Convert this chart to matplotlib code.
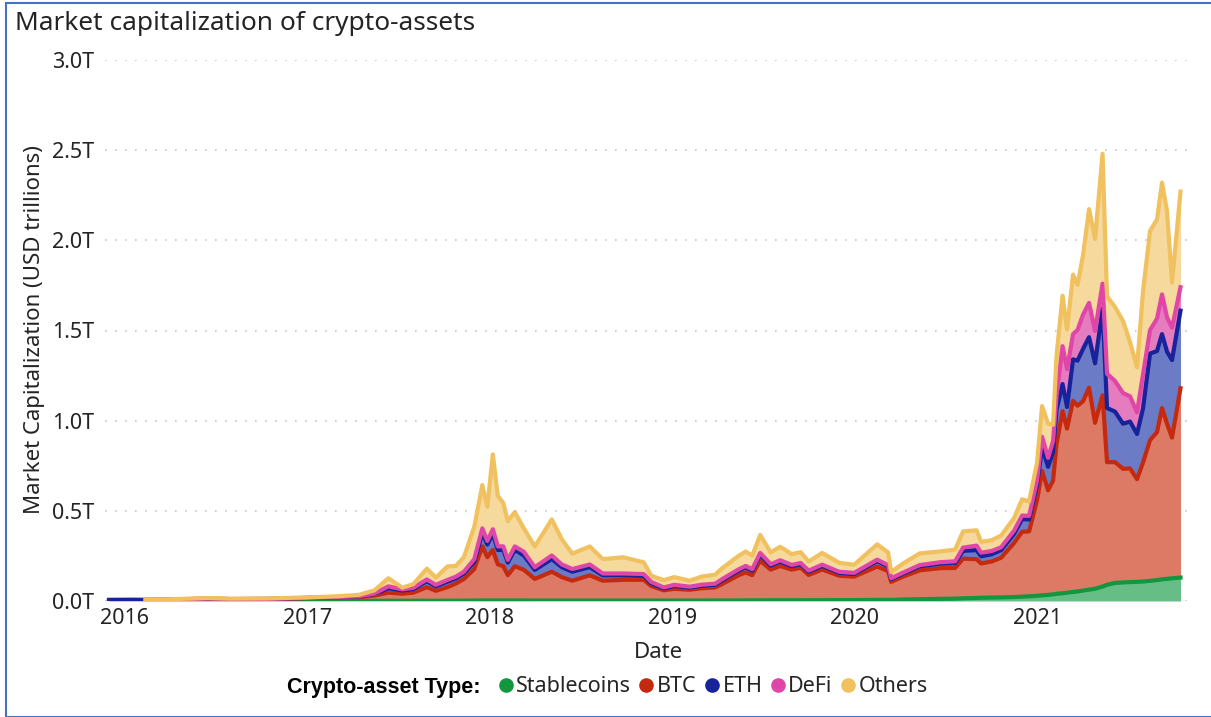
import numpy as np
import pandas as pd
import matplotlib
matplotlib.use("Agg")
import matplotlib.pyplot as plt
import matplotlib.dates as mdates
from matplotlib.lines import Line2D
from matplotlib.patches import Rectangle

plt.rcParams['font.family'] = ['Noto Sans', 'DejaVu Sans']

nan = np.nan

# values in USD trillions
dates = [
    '2015-12-01', '2016-01-15', '2016-02-12', '2016-04-01', '2016-06-15', '2016-08-01',
    '2016-10-15', '2017-01-01', '2017-03-01', '2017-04-15', '2017-05-15', '2017-06-12',
    '2017-07-10', '2017-08-01', '2017-08-28', '2017-09-15', '2017-10-08', '2017-10-25',
    '2017-11-10', '2017-12-01', '2017-12-17', '2017-12-27', '2018-01-07', '2018-01-17',
    '2018-01-28', '2018-02-06', '2018-02-20', '2018-03-10', '2018-04-01', '2018-05-05',
    '2018-05-25', '2018-06-15', '2018-07-20', '2018-08-15', '2018-09-25', '2018-11-05',
    '2018-11-20', '2018-12-15', '2019-01-05', '2019-02-05', '2019-03-01', '2019-03-28',
    '2019-04-10', '2019-05-14', '2019-05-28', '2019-06-10', '2019-06-26', '2019-07-17',
    '2019-08-05', '2019-08-28', '2019-09-15', '2019-10-01', '2019-10-28', '2019-12-01',
    '2019-12-31', '2020-02-15', '2020-03-08', '2020-03-14', '2020-04-05', '2020-05-10',
    '2020-06-20', '2020-07-20', '2020-08-05', '2020-09-01', '2020-09-10', '2020-10-01',
    '2020-10-20', '2020-11-15', '2020-12-01', '2020-12-15', '2020-12-31', '2021-01-10',
    '2021-01-22', '2021-02-01', '2021-02-08', '2021-02-20', '2021-03-01', '2021-03-13',
    '2021-03-22', '2021-04-02', '2021-04-14', '2021-04-26', '2021-05-11', '2021-05-20',
    '2021-06-05', '2021-06-21', '2021-07-05', '2021-07-19', '2021-07-31', '2021-08-14',
    '2021-08-28', '2021-09-07', '2021-09-17', '2021-09-27', '2021-10-14',
]

stablecoins = [
    nan, nan, nan, nan, nan, nan,
    0.0005, 0.0008, 0.0009, 0.0010, 0.0010, 0.0012,
    0.0013, 0.0013, 0.0015, 0.0015, 0.0016, 0.0018,
    0.0020, 0.0025, 0.0030, 0.0030, 0.0030, 0.0030,
    0.0030, 0.0030, 0.0030, 0.0030, 0.0025, 0.0025,
    0.0025, 0.0025, 0.0025, 0.0025, 0.0025, 0.0025,
    0.0025, 0.0025, 0.0025, 0.0025, 0.0025, 0.0030,
    0.0030, 0.0030, 0.0035, 0.0035, 0.0035, 0.0040,
    0.0040, 0.0040, 0.0040, 0.0045, 0.0045, 0.0050,
    0.0050, 0.0060, 0.0060, 0.0060, 0.0080, 0.0100,
    0.0120, 0.0130, 0.0150, 0.0170, 0.0180, 0.0190,
    0.0200, 0.0220, 0.0240, 0.0260, 0.0290, 0.0310,
    0.0340, 0.0370, 0.0400, 0.0430, 0.0460, 0.0500,
    0.0530, 0.0580, 0.0630, 0.0680, 0.0800, 0.0900,
    0.1000, 0.1030, 0.1050, 0.1060, 0.1080, 0.1120,
    0.1160, 0.1200, 0.1230, 0.1260, 0.1300,
]

btc = [
    0.0055, 0.0060, 0.0058, 0.0065, 0.0115, 0.0095,
    0.0100, 0.0155, 0.0190, 0.0200, 0.0290, 0.0450,
    0.0390, 0.0450, 0.0750, 0.0550, 0.0750, 0.0950,
    0.1200, 0.1750, 0.3000, 0.2400, 0.2800, 0.2000,
    0.1900, 0.1400, 0.1900, 0.1700, 0.1200, 0.1600,
    0.1300, 0.1100, 0.1400, 0.1100, 0.1150, 0.1150,
    0.0800, 0.0570, 0.0650, 0.0600, 0.0680, 0.0720,
    0.0900, 0.1400, 0.1550, 0.1400, 0.2200, 0.1700,
    0.1900, 0.1700, 0.1800, 0.1400, 0.1700, 0.1350,
    0.1300, 0.1850, 0.1600, 0.1000, 0.1250, 0.1600,
    0.1700, 0.1700, 0.2200, 0.2150, 0.1900, 0.2000,
    0.2200, 0.3000, 0.3600, 0.3600, 0.5300, 0.6900,
    0.5800, 0.6300, 0.8300, 1.0100, 0.9100, 1.0600,
    1.0300, 1.0500, 1.1200, 0.9200, 1.0600, 0.6800,
    0.6700, 0.6300, 0.6300, 0.5700, 0.6600, 0.7800,
    0.8200, 0.9500, 0.8600, 0.7800, 1.0500,
]

eth = [
    0.0007, 0.0008, 0.0004, 0.0009, 0.0016, 0.0009,
    0.0010, 0.0008, 0.0015, 0.0045, 0.0085, 0.0250,
    0.0180, 0.0200, 0.0330, 0.0250, 0.0300, 0.0280,
    0.0300, 0.0400, 0.0750, 0.0700, 0.0900, 0.0800,
    0.0900, 0.0700, 0.0900, 0.0800, 0.0500, 0.0700,
    0.0550, 0.0500, 0.0450, 0.0300, 0.0250, 0.0220,
    0.0150, 0.0100, 0.0160, 0.0120, 0.0140, 0.0150,
    0.0200, 0.0250, 0.0280, 0.0250, 0.0330, 0.0220,
    0.0240, 0.0190, 0.0200, 0.0180, 0.0200, 0.0160,
    0.0150, 0.0300, 0.0250, 0.0150, 0.0160, 0.0220,
    0.0250, 0.0270, 0.0430, 0.0500, 0.0400, 0.0400,
    0.0420, 0.0500, 0.0700, 0.0660, 0.0850, 0.1300,
    0.1300, 0.1600, 0.1900, 0.1500, 0.1200, 0.2300,
    0.2500, 0.2900, 0.2800, 0.3300, 0.4800, 0.3000,
    0.2800, 0.2500, 0.2600, 0.2500, 0.3000, 0.4800,
    0.4500, 0.4100, 0.4000, 0.4300, 0.4300,
]

defi = [
    nan, nan, 0.0002, 0.0003, 0.0004, 0.0003,
    0.0003, 0.0004, 0.0006, 0.0012, 0.0025, 0.0100,
    0.0060, 0.0070, 0.0100, 0.0080, 0.0100, 0.0100,
    0.0100, 0.0150, 0.0250, 0.0200, 0.0250, 0.0200,
    0.0200, 0.0150, 0.0200, 0.0200, 0.0150, 0.0200,
    0.0150, 0.0150, 0.0150, 0.0100, 0.0100, 0.0100,
    0.0080, 0.0060, 0.0060, 0.0050, 0.0060, 0.0060,
    0.0070, 0.0080, 0.0080, 0.0080, 0.0100, 0.0080,
    0.0080, 0.0070, 0.0070, 0.0060, 0.0070, 0.0060,
    0.0060, 0.0080, 0.0080, 0.0050, 0.0060, 0.0070,
    0.0080, 0.0100, 0.0180, 0.0250, 0.0200, 0.0180,
    0.0160, 0.0180, 0.0200, 0.0200, 0.0250, 0.0600,
    0.0500, 0.0600, 0.0800, 0.2100, 0.2100, 0.1400,
    0.1700, 0.1900, 0.1900, 0.1800, 0.1400, 0.1900,
    0.1700, 0.1700, 0.1400, 0.1200, 0.1900, 0.1300,
    0.1800, 0.2200, 0.1900, 0.1800, 0.1300,
]

others = [
    nan, nan, 0.0015, 0.0020, 0.0030, 0.0025,
    0.0025, 0.0025, 0.0040, 0.0080, 0.0180, 0.0450,
    0.0100, 0.0200, 0.0600, 0.0400, 0.0750, 0.0600,
    0.0800, 0.1800, 0.2400, 0.1900, 0.4150, 0.2800,
    0.2400, 0.2150, 0.1900, 0.1300, 0.1150, 0.2000,
    0.1400, 0.0850, 0.1000, 0.0800, 0.0900, 0.0650,
    0.0350, 0.0400, 0.0430, 0.0330, 0.0450, 0.0500,
    0.0600, 0.0750, 0.0800, 0.0750, 0.1000, 0.0650,
    0.0750, 0.0600, 0.0600, 0.0500, 0.0650, 0.0500,
    0.0450, 0.0850, 0.0700, 0.0350, 0.0500, 0.0650,
    0.0600, 0.0650, 0.0900, 0.0850, 0.0600, 0.0600,
    0.0650, 0.0700, 0.0900, 0.0800, 0.1000, 0.1700,
    0.1900, 0.0900, 0.2200, 0.2800, 0.2200, 0.3300,
    0.2500, 0.3300, 0.5200, 0.5100, 0.7200, 0.4300,
    0.4100, 0.4000, 0.3000, 0.2500, 0.4600, 0.5500,
    0.5500, 0.6200, 0.5900, 0.2500, 0.5300,
]

names = ['Stablecoins', 'BTC', 'ETH', 'DeFi', 'Others']
line_colors = ['#12973F', '#C62A0E', '#17239B', '#E045A8', '#F0C15E']
fill_colors = ['#66BD86', '#DC7A66', '#6C7BC6', '#E57CC0', '#F6D99D']

x = pd.to_datetime(dates)
series = [np.array(s, dtype=float) for s in (stablecoins, btc, eth, defi, others)]

fig = plt.figure(figsize=(12.11, 7.17), dpi=100)
ax = fig.add_axes([105 / 1211, 1 - 601 / 717, 1090 / 1211, 541 / 717])

base = np.zeros(len(x))
tops = []
for s, fc in zip(series, fill_colors):
    top = base + np.nan_to_num(s)
    ax.fill_between(x, base, top, color=fc, linewidth=0, zorder=2)
    tops.append(np.where(np.isnan(s), np.nan, top))
    base = top
for top, lc in zip(tops, line_colors):
    ax.plot(x, top, color=lc, linewidth=3.0, solid_joinstyle='round', zorder=3)

ax.set_ylim(0, 3.0)
ax.set_xlim(pd.Timestamp('2015-11-23'), pd.Timestamp('2021-11-12'))
ax.set_yticks([0, 0.5, 1.0, 1.5, 2.0, 2.5, 3.0])
ax.set_yticklabels(['0.0T', '0.5T', '1.0T', '1.5T', '2.0T', '2.5T', '3.0T'])
ax.xaxis.set_major_locator(mdates.YearLocator())
ax.xaxis.set_major_formatter(mdates.DateFormatter('%Y'))
ax.tick_params(length=0, labelsize=15.5, colors='#252423')
ax.tick_params(axis='y', pad=8)
ax.tick_params(axis='x', pad=5)
ax.grid(axis='y', color='#C8C6C4', linestyle=(0, (1, 5)), linewidth=1.2, zorder=0)
for sp in ax.spines.values():
    sp.set_visible(False)

fig.text(15 / 1211, 1 - 24 / 717, 'Market capitalization of crypto-assets',
         fontsize=18.9, color='#252423', va='center', ha='left')
fig.text(35 / 1211, 1 - 330 / 717, 'Market Capitalization (USD trillions)',
         fontsize=16, color='#252423', rotation=90, va='center', ha='center')
fig.text(658 / 1211, 1 - 653 / 717, 'Date', fontsize=16, color='#252423',
         va='center', ha='center')

fig.text(287 / 1211, 1 - 687 / 717, 'Crypto-asset Type:', fontsize=15.5,
         family=['Liberation Sans', 'DejaVu Sans'], fontweight='bold',
         color='#000000', va='center', ha='left')
handles = [Line2D([], [], marker='o', linestyle='none', markersize=9.5,
                  markerfacecolor=c, markeredgecolor=c) for c in line_colors]
fig.legend(handles, names, loc='center left', bbox_to_anchor=(497 / 1211, 1 - 687 / 717),
           ncol=5, frameon=False, fontsize=15.5, handlelength=0.8, handletextpad=0.1,
           columnspacing=0.3, borderpad=0, borderaxespad=0, labelcolor='#252423')

fig.patches.append(Rectangle((6 / 1211, 0), 1.5, 1 - 3 / 717, transform=fig.transFigure,
                             fill=False, edgecolor='#4472C4', linewidth=1.5))

fig.savefig('out.png', dpi=100)
